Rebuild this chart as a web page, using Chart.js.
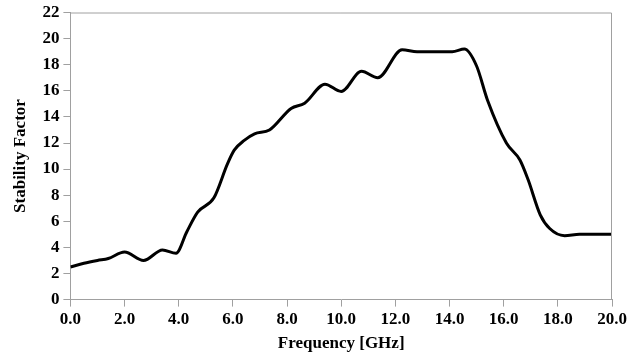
<!DOCTYPE html>
<html>
<head>
<meta charset="utf-8">
<script src="https://cdn.jsdelivr.net/npm/chart.js@4"></script>
<style>
  html, body { margin: 0; padding: 0; background: #fff; }
  #wrap { width: 638px; height: 358px; }
</style>
</head>
<body>
<div id="wrap"><canvas id="stabilityChart"></canvas></div>
<script>
// data
const frequency = [0, 0.5, 1.0, 1.4, 2.0, 2.7, 3.4, 3.9, 4.3, 4.7, 5.3, 5.8, 6.05, 6.42, 6.8, 7.35, 8.15, 8.65, 9.4, 10.0, 10.75, 11.35, 12.25, 12.8, 14.1, 14.55, 15.0, 15.4, 16.1, 16.6, 16.9, 17.35, 17.7, 18.25, 18.8, 20.0];
const stability = [2.5, 2.78, 3.0, 3.15, 3.65, 3.0, 3.8, 3.55, 5.2, 6.7, 7.8, 10.4, 11.45, 12.2, 12.7, 13.0, 14.65, 15.05, 16.5, 15.95, 17.5, 17.0, 19.15, 19.0, 19.0, 19.2, 17.9, 15.3, 12.0, 10.7, 9.2, 6.5, 5.45, 4.9, 5.0, 5.0];
const xTitle = 'Frequency [GHz]';
const yTitle = 'Stability Factor';

const points = frequency.map((f, i) => ({ x: f, y: stability[i] }));

const axisFont = { family: "'Liberation Serif', 'Times New Roman', serif", size: 17, weight: 'bold', lineHeight: 1 };
const titleFont = { family: "'Liberation Serif', 'Times New Roman', serif", size: 17, weight: 'bold' };

// gray frame round the plot area
const frame = {
    id: 'frame',
    afterDraw(chart) {
        const a = chart.chartArea;
        const ctx = chart.ctx;
        ctx.save();
        ctx.strokeStyle = '#a0a0a0';
        ctx.lineWidth = 1;
        ctx.beginPath();
        ctx.moveTo(a.left, a.top + 0.5);
        ctx.lineTo(a.right - 0.5, a.top + 0.5);
        ctx.lineTo(a.right - 0.5, a.bottom);
        ctx.stroke();
        ctx.restore();
    }
};

new Chart(document.getElementById('stabilityChart'), {
    type: 'line',
    data: {
        datasets: [{
            data: points,
            borderColor: '#000',
            borderWidth: 3,
            pointRadius: 0,
            cubicInterpolationMode: 'monotone',
            fill: false
        }]
    },
    options: {
        responsive: true,
        maintainAspectRatio: false,
        animation: false,
        layout: { padding: { left: 10, right: 26, top: 0, bottom: 4 } },
        plugins: { legend: { display: false }, tooltip: { enabled: false } },
        scales: {
            x: {
                type: 'linear',
                min: 0, max: 20,
                ticks: {
                    stepSize: 2,
                    color: '#000',
                    font: axisFont,
                    maxRotation: 0,
                    padding: 5,
                    callback: v => v.toFixed(1)
                },
                grid: { drawOnChartArea: false, color: '#a0a0a0', tickLength: 7 },
                border: { color: '#a0a0a0' },
                title: { display: true, text: xTitle, color: '#000', font: titleFont, padding: { top: 0, bottom: 0 } }
            },
            y: {
                min: 0, max: 22,
                ticks: { stepSize: 2, color: '#000', font: axisFont, padding: 4 },
                grid: { drawOnChartArea: false, color: '#a0a0a0', tickLength: 7 },
                border: { color: '#a0a0a0' },
                title: { display: true, text: yTitle, color: '#000', font: titleFont, padding: { top: 0, bottom: 8 } }
            }
        }
    },
    plugins: [frame]
});
</script>
</body>
</html>
